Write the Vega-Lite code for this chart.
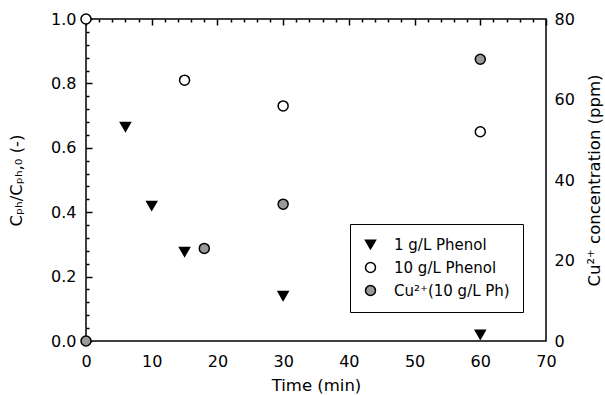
{
  "$schema": "https://vega.github.io/schema/vega-lite/v6.json",
  "width": 460,
  "height": 322,
  "autosize": {"type": "none"},
  "padding": {"left": 86, "top": 19, "right": 59, "bottom": 54},
  "config": {
    "font": "DejaVu Sans",
    "view": {"stroke": "black", "strokeWidth": 1.5},
    "axis": {
      "domain": false,
      "ticks": false,
      "grid": true,
      "gridColor": "black", "gridWidth": 1.5, "gridOpacity": 1,
      "labelFontSize": 16, "labelColor": "black", "labelFont": "DejaVu Sans",
      "titleFontSize": 16.5, "titleFontWeight": "normal", "titleColor": "black", "titleFont": "DejaVu Sans"
    }
  },
  "data": {
    "values": [
      {"series": "1 g/L Phenol", "time": 6, "value": 0.665, "side": "left"},
      {"series": "1 g/L Phenol", "time": 10, "value": 0.42, "side": "left"},
      {"series": "1 g/L Phenol", "time": 15, "value": 0.277, "side": "left"},
      {"series": "1 g/L Phenol", "time": 30, "value": 0.14, "side": "left"},
      {"series": "1 g/L Phenol", "time": 60, "value": 0.02, "side": "left"},
      {"series": "10 g/L Phenol", "time": 0, "value": 1.0, "side": "left"},
      {"series": "10 g/L Phenol", "time": 15, "value": 0.81, "side": "left"},
      {"series": "10 g/L Phenol", "time": 30, "value": 0.73, "side": "left"},
      {"series": "10 g/L Phenol", "time": 60, "value": 0.65, "side": "left"},
      {"series": "Cu²⁺(10 g/L Ph)", "time": 0, "value": 0, "side": "right"},
      {"series": "Cu²⁺(10 g/L Ph)", "time": 18, "value": 23, "side": "right"},
      {"series": "Cu²⁺(10 g/L Ph)", "time": 30, "value": 34, "side": "right"},
      {"series": "Cu²⁺(10 g/L Ph)", "time": 60, "value": 70, "side": "right"}
    ]
  },
  "encoding": {
    "x": {
      "field": "time", "type": "quantitative",
      "scale": {"domain": [0, 70], "nice": false, "zero": false},
      "axis": {
        "title": "Time (min)",
        "values": [0,2,4,6,8,10,12,14,16,18,20,22,24,26,28,30,32,34,36,38,40,42,44,46,48,50,52,54,56,58,60,62,64,66,68,70],
        "labelExpr": "datum.value % 10 === 0 ? datum.label : ''",
        "gridDash": {"condition": {"test": "datum.value % 10 !== 0", "value": [3, 1000]}, "value": [6, 1000]},
        "labelPadding": 12,
        "titlePadding": 8,
        "labelFlush": false
      }
    },
    "shape": {
      "field": "series", "type": "nominal",
      "scale": {"domain": ["1 g/L Phenol", "10 g/L Phenol", "Cu²⁺(10 g/L Ph)"], "range": ["triangle-down", "circle", "circle"]},
      "legend": {
        "title": null, "orient": "none", "legendX": 264, "legendY": 205, "zindex": 2,
        "strokeColor": "black", "fillColor": "white", "padding": 13,
        "labelFontSize": 15, "labelFont": "DejaVu Sans", "labelColor": "black", "labelLimit": 300,
        "labelOffset": 16, "rowPadding": 6,
        "encode": {"symbols": {"update": {"stroke": {"value": "black"}, "strokeWidth": {"value": 1.5}}}}
      }
    },
    "fill": {
      "field": "series", "type": "nominal",
      "scale": {"domain": ["1 g/L Phenol", "10 g/L Phenol", "Cu²⁺(10 g/L Ph)"], "range": ["black", "white", "#999999"]},
      "legend": {
        "title": null, "orient": "none", "legendX": 264, "legendY": 205, "zindex": 2,
        "strokeColor": "black", "fillColor": "white", "padding": 13,
        "labelFontSize": 15, "labelFont": "DejaVu Sans", "labelColor": "black", "labelLimit": 300,
        "labelOffset": 16, "rowPadding": 6,
        "encode": {"symbols": {"update": {"stroke": {"value": "black"}, "strokeWidth": {"value": 1.5}}}}
      }
    }
  },
  "layer": [
    {
      "transform": [{"filter": "datum.side === 'left'"}],
      "mark": {"type": "point", "stroke": "black", "strokeWidth": 1.5, "opacity": 1, "size": 100},
      "encoding": {
        "y": {
          "field": "value", "type": "quantitative",
          "scale": {"domain": [0, 1], "nice": false},
          "axis": {
            "title": "Cₚₕ/Cₚₕ,₀ (-)",
            "values": [0,0.04,0.08,0.12,0.16,0.2,0.24,0.28,0.32,0.36,0.4,0.44,0.48,0.52,0.56,0.6,0.64,0.68,0.72,0.76,0.8,0.84,0.88,0.92,0.96,1.0],
            "format": ".1f",
            "labelExpr": "abs(round(datum.value*5) - datum.value*5) < 0.001 ? datum.label : ''",
            "gridDash": {"condition": {"test": "abs(round(datum.value*5) - datum.value*5) >= 0.001", "value": [3, 1000]}, "value": [6, 1000]},
            "labelPadding": 10,
            "titlePadding": 26,
            "labelFlush": false
          }
        }
      }
    },
    {
      "transform": [{"filter": "datum.side === 'right'"}],
      "mark": {"type": "point", "stroke": "black", "strokeWidth": 1.5, "opacity": 1, "size": 100},
      "encoding": {
        "y": {
          "field": "value", "type": "quantitative",
          "scale": {"domain": [0, 80], "nice": false},
          "axis": {
            "orient": "right",
            "title": "Cu²⁺ concentration (ppm)",
            "titleAngle": 270,
            "values": [0,4,8,12,16,20,24,28,32,36,40,44,48,52,56,60,64,68,72,76,80],
            "labelExpr": "datum.value % 20 === 0 ? datum.label : ''",
            "gridDash": {"condition": {"test": "datum.value % 20 !== 0", "value": [3, 1000]}, "value": [6, 1000]},
            "labelPadding": 8,
            "titlePadding": 28,
            "labelFlush": false
          }
        }
      }
    }
  ],
  "resolve": {"scale": {"y": "independent"}}
}
